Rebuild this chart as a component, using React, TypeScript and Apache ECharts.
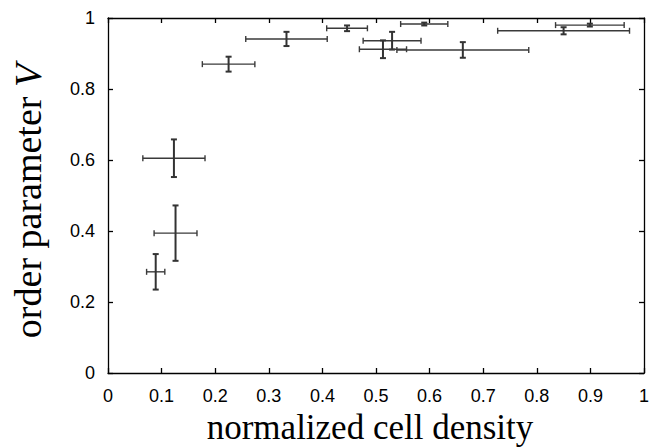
import React, { useEffect, useRef } from "react";
import * as echarts from "echarts";

const density = [0.089, 0.126, 0.123, 0.225, 0.333, 0.446, 0.590, 0.530, 0.513, 0.662, 0.899, 0.850];
const densityErr = [0.017, 0.040, 0.058, 0.049, 0.076, 0.038, 0.044, 0.054, 0.044, 0.123, 0.064, 0.123];
const orderParam = [0.285, 0.394, 0.605, 0.870, 0.941, 0.971, 0.983, 0.936, 0.912, 0.910, 0.980, 0.964];
const orderErr = [0.050, 0.078, 0.053, 0.021, 0.020, 0.008, 0.004, 0.025, 0.025, 0.022, 0.004, 0.010];

const xLabel = "normalized cell density";
const yLabelMain = "order parameter ";
const yLabelVar = "V";

export default function App() {
  const ref = useRef<HTMLDivElement>(null);
  useEffect(() => {
    if (!ref.current) return;
    const chart = echarts.init(ref.current, null, { renderer: "svg" });
    const data = density.map((x, i) => [x, orderParam[i], densityErr[i], orderErr[i]]);
    const tickFont = { fontFamily: "Liberation Sans", fontSize: 18, color: "#000" };
    const axisLine = { show: true, onZero: false, lineStyle: { color: "#000", width: 1.3 } };
    const axisTick = { show: true, inside: true, length: 5, lineStyle: { color: "#000", width: 1.3 } };
    chart.setOption({
      animation: false,
      grid: { left: 108, right: 6, top: 18, bottom: 75 },
      xAxis: [
        {
          type: "value", min: 0, max: 1, interval: 0.1, position: "bottom",
          axisLine, axisTick, splitLine: { show: false },
          axisLabel: { ...tickFont, margin: 14 },
        },
        {
          type: "value", min: 0, max: 1, interval: 0.1, position: "top",
          axisLine, axisTick, splitLine: { show: false }, axisLabel: { show: false },
        },
      ],
      yAxis: [
        {
          type: "value", min: 0, max: 1, interval: 0.2, position: "left",
          axisLine, axisTick, splitLine: { show: false },
          axisLabel: { ...tickFont, margin: 13 },
        },
        {
          type: "value", min: 0, max: 1, interval: 0.2, position: "right",
          axisLine, axisTick, splitLine: { show: false }, axisLabel: { show: false },
        },
      ],
      series: [
        {
          type: "custom",
          xAxisIndex: 0,
          yAxisIndex: 0,
          data,
          encode: { x: 0, y: 1 },
          renderItem: (params: any, api: any) => {
            const x = api.value(0);
            const y = api.value(1);
            const ex = api.value(2);
            const ey = api.value(3);
            const c = api.coord([x, y]);
            const l = api.coord([x - ex, y]);
            const r = api.coord([x + ex, y]);
            const t = api.coord([x, y + ey]);
            const b = api.coord([x, y - ey]);
            const cap = 3;
            const hStyle = { stroke: "#3a3a3a", lineWidth: 1.4, fill: null };
            const vStyle = { stroke: "#333", lineWidth: 2, fill: null };
            return {
              type: "group",
              children: [
                { type: "line", shape: { x1: l[0], y1: c[1], x2: r[0], y2: c[1] }, style: hStyle },
                { type: "line", shape: { x1: l[0], y1: c[1] - cap, x2: l[0], y2: c[1] + cap }, style: hStyle },
                { type: "line", shape: { x1: r[0], y1: c[1] - cap, x2: r[0], y2: c[1] + cap }, style: hStyle },
                { type: "line", shape: { x1: c[0], y1: t[1], x2: c[0], y2: b[1] }, style: vStyle },
                { type: "line", shape: { x1: c[0] - cap, y1: t[1], x2: c[0] + cap, y2: t[1] }, style: vStyle },
                { type: "line", shape: { x1: c[0] - cap, y1: b[1], x2: c[0] + cap, y2: b[1] }, style: vStyle },
              ],
            };
          },
        },
      ],
      graphic: [
        {
          type: "text",
          x: 370,
          y: 427,
          style: {
            text: xLabel,
            font: "35px 'Liberation Serif'",
            fill: "#000",
            align: "center",
            verticalAlign: "middle",
          },
        },
        {
          type: "text",
          x: 28,
          y: 201,
          rotation: Math.PI / 2,
          style: {
            text: "{m|" + yLabelMain + "}{v|" + yLabelVar + "}",
            rich: {
              m: { font: "38px 'Liberation Serif'", fill: "#000" },
              v: { font: "italic 38px 'Liberation Serif'", fill: "#000" },
            },
            fill: "#000",
            align: "center",
            verticalAlign: "middle",
          },
        },
      ],
    });
    return () => chart.dispose();
  }, []);
  return <div ref={ref} style={{ width: 652, height: 448, position: "absolute", left: 0, top: 0 }} />;
}
